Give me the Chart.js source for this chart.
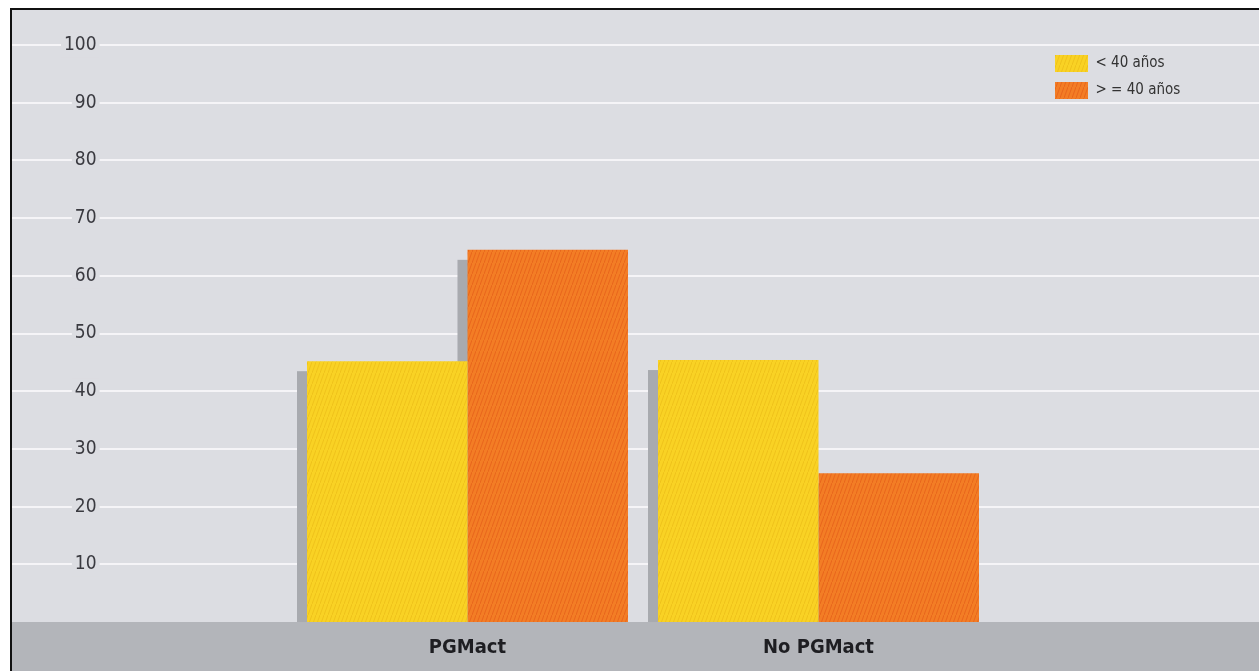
<!DOCTYPE html>
<html>
<head>
<meta charset="utf-8">
<script src="https://cdn.jsdelivr.net/npm/chart.js@4/dist/chart.umd.min.js"></script>
<style>
  html, body { margin: 0; padding: 0; background: #fff; }
  #frame { position: absolute; left: 10px; top: 8px; width: 1249px; height: 663px;
           border-left: 2px solid #111; border-top: 2px solid #111; box-sizing: border-box; }
  #box { position: absolute; left: 0; top: 0; width: 1247px; height: 661px; background: #dcdde2; }
</style>
</head>
<body>
<div id="frame"><div id="box"><canvas id="chartCanvas"></canvas></div></div>
<script>
// --- data ---
const groups = ["PGMact", "No PGMact"];
const seriesNames = ["< 40 años", "> = 40 años"];
const under40 = [45.2, 45.4];
const over40 = [64.5, 25.8];
const yTicks = [10, 20, 30, 40, 50, 60, 70, 80, 90, 100];

const BG = "#dcdde2";
const BAND = "#b3b5ba";
const SHADOW = "#a8aaaf";
const FONT = "'Liberation Sans Narrow', 'DejaVu Sans Condensed', 'Liberation Sans', sans-serif";

const toPoints = vals => vals.map((v, i) => ({ x: i + 1, y: v }));

// fine diagonal hatching like the printed bars
function hatch(base, stripe) {
  const c = document.createElement("canvas");
  c.width = 4; c.height = 11;
  const g = c.getContext("2d");
  g.fillStyle = base;
  g.fillRect(0, 0, 4, 11);
  g.strokeStyle = stripe;
  g.lineWidth = 1;
  g.beginPath();
  g.moveTo(0, 11); g.lineTo(4, 0);
  g.stroke();
  return g.createPattern(c, "repeat");
}

// grey band under the plot + legend placement
const framePlugin = {
  id: "frame",
  afterLayout(chart) {
    const lg = chart.legend;
    if (!lg) return;
    const w = lg.width, h = lg.height;
    lg.left = 1033; lg.top = 35;
    lg.right = lg.left + w; lg.bottom = lg.top + h;
  },
  beforeDraw(chart) {
    const { ctx, chartArea, width, height } = chart;
    ctx.save();
    ctx.fillStyle = BAND;
    ctx.fillRect(0, chartArea.bottom, width, height - chartArea.bottom);
    ctx.restore();
  }
};

// offset grey shadow behind each bar
const shadowPlugin = {
  id: "barShadow",
  beforeDatasetsDraw(chart) {
    const ctx = chart.ctx;
    ctx.save();
    ctx.fillStyle = SHADOW;
    chart.data.datasets.forEach((ds, i) => {
      chart.getDatasetMeta(i).data.forEach(bar => {
        const { x, y, width, base } = bar.getProps(["x", "y", "width", "base"], true);
        ctx.fillRect(x - width / 2 - 10, y + 10, width, base - y - 10);
      });
    });
    ctx.restore();
  }
};

new Chart(document.getElementById("chartCanvas"), {
  type: "bar",
  data: {
    datasets: [
      { label: seriesNames[0], data: toPoints(under40), backgroundColor: hatch("#f9d224", "#efc21c") },
      { label: seriesNames[1], data: toPoints(over40), backgroundColor: hatch("#f37d25", "#e8661d") }
    ]
  },
  options: {
    responsive: true,
    maintainAspectRatio: false,
    animation: false,
    devicePixelRatio: 1,
    events: [],
    categoryPercentage: 0.9145,
    barPercentage: 1,
    layout: { padding: { top: 35, bottom: 11, left: 0, right: 0 } },
    plugins: {
      tooltip: { enabled: false },
      legend: {
        position: "chartArea",
        align: "start",
        labels: {
          boxWidth: 33, boxHeight: 17, padding: 10,
          color: "#333", font: { family: FONT, size: 15 }
        }
      }
    },
    scales: {
      x: {
        type: "linear",
        min: -0.2977,
        max: 3.255,
        offset: false,
        grid: { display: false, drawTicks: false },
        border: { display: false },
        afterBuildTicks: axis => { axis.ticks = groups.map((g, i) => ({ value: i + 1 })); },
        afterFit: axis => { axis.height = 38; },
        ticks: {
          callback: v => groups[v - 1] ?? "",
          autoSkip: false, maxRotation: 0, padding: 14,
          color: "#1e1e22", font: { family: FONT, size: 20, weight: "bold" }
        }
      },
      y: {
        min: 0,
        max: 100,
        afterBuildTicks: axis => { axis.ticks = yTicks.map(v => ({ value: v })); },
        afterFit: axis => { axis.width = 0; axis.paddingTop = 0; axis.paddingBottom = 0; },
        grid: { color: "#f5f4f7", lineWidth: 2, drawTicks: false },
        border: { display: false },
        ticks: {
          mirror: true, crossAlign: "far", padding: 52,
          color: "#3a3a40", font: { family: FONT, size: 19 },
          showLabelBackdrop: true, backdropColor: BG, backdropPadding: { x: 3, y: 1 }
        }
      }
    }
  },
  plugins: [framePlugin, shadowPlugin]
});
</script>
</body>
</html>
